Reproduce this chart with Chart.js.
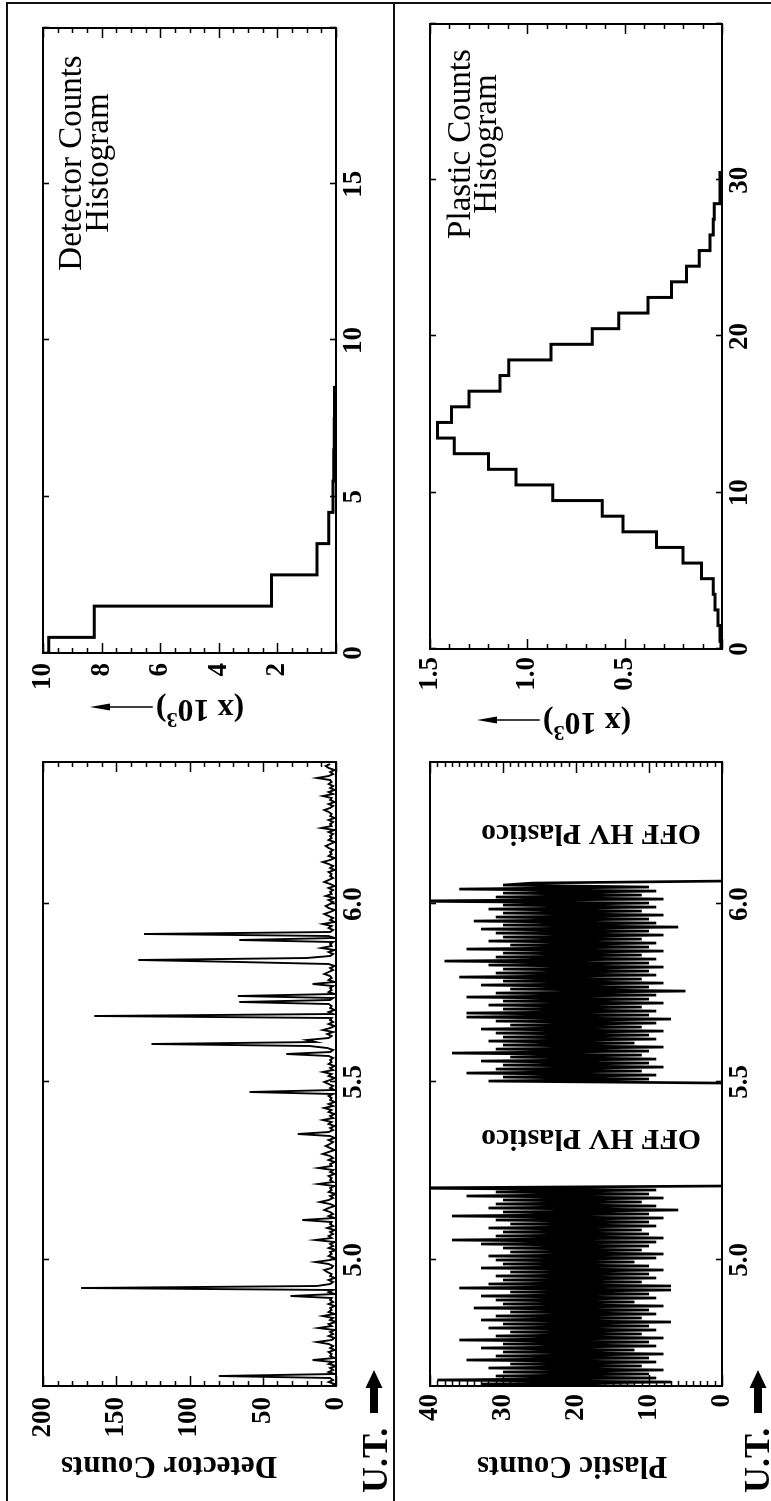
<!DOCTYPE html>
<html>
<head>
<meta charset="utf-8">
<title>Detector and Plastic Counts</title>
<script src="https://cdn.jsdelivr.net/npm/chart.js@4.4.1/dist/chart.umd.min.js"></script>
<style>
  html, body { margin: 0; padding: 0; background: #fff; overflow: hidden; width: 771px; height: 1501px; }
  /* the figure is drawn landscape and turned a quarter turn to the left */
  #page { position: absolute; left: 0; top: 0; width: 1501px; height: 771px;
          transform-origin: 0 0; transform: translate(0, 1501px) rotate(-90deg); }
  #page canvas { position: absolute; left: 0; top: 0; }
  .rule { position: absolute; background: #111; }
</style>
</head>
<body>
<div id="page">
  <div class="rule" style="left:0;top:6px;width:1499px;height:2px"></div>
  <div class="rule" style="left:0;top:393px;width:1499px;height:2px"></div>
  <div class="rule" style="left:1497px;top:6px;width:2px;height:765px"></div>
  <canvas id="detTime" width="1501" height="771"></canvas>
  <canvas id="detHist" width="1501" height="771"></canvas>
  <canvas id="plaTime" width="1501" height="771"></canvas>
  <canvas id="plaHist" width="1501" height="771"></canvas>
</div>
<script>
// ---- data ----
// time series: one sample every sampleDt hours (U.T.)
const sampleDt = 0.005625;
const detStart = 4.645;
const detCounts = [
  3,1,5,2,4,80,1,5,2,4,0,5,2,16,1,4,3,5,1,4,
  2,5,13,3,1,5,2,4,1,12,3,5,0,4,2,9,1,5,3,4,
  1,5,2,4,3,31,1,5,2,174,13,4,2,5,1,4,3,6,8,3,
  2,5,14,4,1,5,3,4,0,5,2,4,1,14,3,5,2,4,1,6,
  2,4,3,23,1,5,2,4,8,5,1,4,11,5,2,4,0,5,3,4,
  1,12,2,4,3,5,1,4,2,12,3,4,1,5,2,4,9,5,1,4,
  7,4,2,5,1,4,26,5,2,4,1,5,3,9,2,4,1,5,3,8,
  2,5,1,4,3,5,2,59,1,4,2,5,8,4,1,5,3,9,2,4,
  1,5,3,4,2,5,34,4,2,6,18,126,14,20,5,3,6,2,9,4,
  1,5,2,4,3,165,2,5,1,4,3,5,66,4,2,67,1,5,3,4,
  2,16,1,5,3,4,8,5,2,4,1,5,66,135,20,4,2,5,1,10,
  3,4,2,66,1,5,131,4,2,5,3,9,1,4,2,5,8,4,1,5,
  7,4,2,5,1,7,3,4,2,5,1,4,8,5,2,4,3,5,1,4,
  2,5,9,4,1,5,3,4,2,5,7,4,1,5,3,4,2,5,1,10,
  3,4,2,5,1,4,3,5,8,4,2,5,1,4,3,9,2,5,1,4,
  2,5,3,4,13,5,2,4,1,5,7,4
];
const plaStart1 = 4.645;
const plaCounts1 = [
  12,33,7,39,9,31,10,30,8,32, 11,29,9,35,10,31,8,30,12,33,
  9,30,10,36,8,31,11,29,9,32, 10,30,7,33,11,31,9,29,10,34,
  8,30,12,31,9,33,10,29,7,36, 7,32,11,30,9,31,10,29,8,33,
  10,30,12,31,9,32,8,29,11,30, 10,33,9,37,8,31,10,30,11,32,
  9,29,10,31,8,37,10,30,6,32, 9,31,11,30,8,35,10,31,9,45,
  0
];
const plaStart2 = 5.497;
const plaCounts2 = [
  0,32,10,30,9,35,11,31,8,30, 10,33,9,29,11,37,10,31,8,30,
  12,32,9,30,10,31,8,33,11,29, 9,31,7,35,10,35,9,30,11,32,
  8,30,10,35,9,31,5,29,10,33, 8,30,11,36,9,31,10,30,8,32,
  10,38,9,31,11,30,8,35,10,29, 9,32,11,30,8,31,10,33,6,30,
  9,34,10,31,8,30,11,32,9,30, 10,44,8,31,11,30,9,36,10,30,
  26,0
];

// histograms: counts per sample (bin centres) and frequency in units of 10^3
const binWidth = 1;
const detHistCounts = [0,1,2,3,4,5,6,7,8];
const detHistFreq = [9.8,8.25,2.2,0.65,0.25,0.1,0.08,0.06,0.05];
const plaHistCounts = [0,1,2,3,4,5,6,7,8,9,10,11,12,13,14,15,16,17,18,19,20,21,22,23,24,25,26,27,28,29,30];
const plaHistFreq = [0.005,0.01,0.02,0.036,0.045,0.105,0.2,0.337,0.509,0.615,0.87,1.058,1.2,1.376,1.462,
                     1.389,1.3,1.14,1.096,0.878,0.667,0.53,0.38,0.26,0.182,0.117,0.062,0.045,0.04,0.01,0.01];

// tick labels
const timeTicks = [5.0, 5.5, 6.0];
const timeTickLabels = ['5.0', '5.5', '6.0'];
const detCountTicks = [0, 50, 100, 150, 200];
const plaCountTicks = [0, 10, 20, 30, 40];
const detHistXTicks = [0, 5, 10, 15];
const detHistYTicks = [2, 4, 6, 8, 10];
const plaHistXTicks = [0, 10, 20, 30];
const plaHistYTicks = [0.5, 1.0, 1.5];
const plaHistYLabels = ['0.5', '1.0', '1.5'];

// ---- layout ----
const W = 1501, H = 771;
const serif = '"Liberation Serif", "Times New Roman", serif';
const tickFont = { family: serif, size: 27, weight: 'bold' };
const plotBox = {
  detTime: { left: 115, top: 43, right: 739, bottom: 336 },
  detHist: { left: 848, top: 43, right: 1473, bottom: 336 },
  plaTime: { left: 115, top: 430, right: 739, bottom: 722 },
  plaHist: { left: 852, top: 430, right: 1477, bottom: 722 }
};
// [major step, major length, minor step, minor length] for the inward ticks
const tickMarks = {
  detTime: { x: [0.5, 6, 0, 0], y: [50, 10, 10, 5] },
  detHist: { x: [5, 6, 0, 0],   y: [2, 10, 0.5, 5] },
  plaTime: { x: [0.5, 6, 0, 0], y: [10, 11, 1, 5] },
  plaHist: { x: [10, 6, 0, 0],  y: [0.5, 10, 0.1, 5] }
};

function axis(horizontal, min, max, values, labels, pad, size) {
  return {
    type: 'linear', min: min, max: max,
    grid: { display: false, drawTicks: false },
    border: { display: false },
    ticks: { autoSkip: false, maxRotation: 0, minRotation: 0, padding: pad, font: tickFont, color: '#000',
             callback: (v, i) => labels[i] },
    afterBuildTicks: s => { s.ticks = values.map(v => ({ value: v })); },
    afterFit: s => { if (horizontal) s.height = size; else s.width = size; }
  };
}

function text(ctx, str, x, y, font, align) {
  ctx.save();
  ctx.font = font; ctx.fillStyle = '#000'; ctx.textAlign = align; ctx.textBaseline = 'alphabetic';
  ctx.fillText(str, x, y);
  ctx.restore();
}
function upText(ctx, str, x, y, font) {
  ctx.save();
  ctx.translate(x, y); ctx.rotate(-Math.PI / 2);
  ctx.font = font; ctx.fillStyle = '#000'; ctx.textAlign = 'center'; ctx.textBaseline = 'alphabetic';
  ctx.fillText(str, 0, 0);
  ctx.restore();
}
function fatArrow(ctx, x0, x1, y) {
  ctx.save();
  ctx.fillStyle = '#000';
  ctx.fillRect(x0, y - 4, x1 - 17 - x0, 8);
  ctx.beginPath(); ctx.moveTo(x1, y); ctx.lineTo(x1 - 18, y - 8.5); ctx.lineTo(x1 - 18, y + 8.5); ctx.closePath(); ctx.fill();
  ctx.restore();
}
// "(x 10^3)" written upwards followed by a thin arrow
function powerLabel(ctx, baseX, cy, arrowX, tipY) {
  const big = 'bold 32px ' + serif, small = 'bold 22px ' + serif;
  ctx.save();
  ctx.translate(baseX, cy); ctx.rotate(-Math.PI / 2);
  ctx.fillStyle = '#000'; ctx.strokeStyle = '#000'; ctx.textAlign = 'left'; ctx.textBaseline = 'alphabetic';
  ctx.font = big; const w1 = ctx.measureText('(x 10').width, w3 = ctx.measureText(')').width;
  ctx.font = small; const w2 = ctx.measureText('3').width;
  let x = -(w1 + w2 + w3) / 2;
  ctx.font = big; ctx.fillText('(x 10', x, 0); x += w1;
  ctx.font = small; ctx.fillText('3', x, -13); x += w2;
  ctx.font = big; ctx.fillText(')', x, 0); x += w3;
  const ay = arrowX - baseX, tip = cy - tipY;
  ctx.lineWidth = 1.5;
  ctx.beginPath(); ctx.moveTo(x + 3, ay); ctx.lineTo(tip - 12, ay); ctx.stroke();
  ctx.beginPath(); ctx.moveTo(tip, ay); ctx.lineTo(tip - 20, ay - 3.5); ctx.lineTo(tip - 20, ay + 3.5); ctx.closePath(); ctx.fill();
  ctx.restore();
}

const notes = {
  detTime: ctx => {
    upText(ctx, 'Detector Counts', 44, 169, 'bold 31px ' + serif);
    text(ctx, 'U.T.', 8, 387, 'bold 36px ' + serif, 'left');
    fatArrow(ctx, 88, 131, 374);
  },
  plaTime: ctx => {
    upText(ctx, 'Plastic Counts', 44, 572, 'bold 31px ' + serif);
    text(ctx, 'U.T.', 8, 769, 'bold 36px ' + serif, 'left');
    fatArrow(ctx, 88, 131, 758);
    upText(ctx, 'OFF HV Plastico', 371, 591, 'bold 30px ' + serif);
    upText(ctx, 'OFF HV Plastico', 676, 591, 'bold 30px ' + serif);
  },
  detHist: ctx => {
    powerLabel(ctx, 801, 200, 794, 90);
    text(ctx, 'Detector Counts', 1338, 81, '33px ' + serif, 'center');
    text(ctx, 'Histogram', 1338, 108, '33px ' + serif, 'center');
  },
  plaHist: ctx => {
    powerLabel(ctx, 788, 587, 781, 477);
    text(ctx, 'Plastic Counts', 1357, 470, '33px ' + serif, 'center');
    text(ctx, 'Histogram', 1357, 496, '33px ' + serif, 'center');
  }
};

// frame around each plot with inward major/minor ticks on all four sides
const boxPlugin = {
  id: 'boxPlugin',
  afterDraw(chart) {
    const id = chart.canvas.id, spec = tickMarks[id];
    const { ctx, chartArea: a } = chart;
    const xs = chart.scales.x, ys = chart.scales.y;
    ctx.save();
    ctx.strokeStyle = '#000';
    ctx.lineWidth = 1.6;
    ctx.beginPath();
    const marks = (scale, step, len, horiz) => {
      if (!step) return;
      for (let k = Math.ceil(scale.min / step - 1e-6); k * step <= scale.max + 1e-9; k++) {
        const p = Math.round(scale.getPixelForValue(k * step)) + 0.5;
        if (horiz) { ctx.moveTo(p, a.bottom); ctx.lineTo(p, a.bottom - len); ctx.moveTo(p, a.top); ctx.lineTo(p, a.top + len); }
        else { ctx.moveTo(a.left, p); ctx.lineTo(a.left + len, p); ctx.moveTo(a.right, p); ctx.lineTo(a.right - len, p); }
      }
    };
    marks(xs, spec.x[2], spec.x[3], true);
    marks(xs, spec.x[0], spec.x[1], true);
    marks(ys, spec.y[2], spec.y[3], false);
    marks(ys, spec.y[0], spec.y[1], false);
    ctx.stroke();
    ctx.lineWidth = 2;
    ctx.strokeRect(a.left, a.top, a.right - a.left, a.bottom - a.top);
    ctx.restore();
    notes[id](ctx);
  }
};

const series = (t0, vals) => vals.map((v, i) => ({ x: t0 + i * sampleDt, y: v }));
const steps = (centres, vals) => {
  const pts = centres.map((c, i) => ({ x: c - binWidth / 2, y: vals[i] }));
  pts.push({ x: centres[centres.length - 1] + binWidth / 2, y: 0 });
  return pts;
};

function makeChart(id, datasets, xAxis, yAxis) {
  const b = plotBox[id];
  return new Chart(document.getElementById(id), {
    type: 'line',
    data: { datasets: datasets },
    options: {
      responsive: false, animation: false, devicePixelRatio: 1, events: [],
      layout: { padding: { left: 0, top: b.top, right: W - b.right, bottom: 0 } },
      plugins: { legend: { display: false }, tooltip: { enabled: false } },
      elements: { point: { radius: 0 }, line: { tension: 0, borderColor: '#000', fill: false } },
      scales: { x: xAxis, y: yAxis }
    },
    plugins: [boxPlugin]
  });
}

makeChart('detTime',
  [{ data: series(detStart, detCounts), borderWidth: 1.9, borderColor: '#000', borderJoinStyle: 'miter' }],
  axis(true, 4.645, 6.40, timeTicks, timeTickLabels, 2, H - plotBox.detTime.bottom),
  axis(false, 0, 200, detCountTicks, detCountTicks.map(String), 11, plotBox.detTime.left));

makeChart('plaTime',
  [{ data: series(plaStart1, plaCounts1), borderWidth: 2.7, borderColor: '#000', borderJoinStyle: 'miter' },
   { data: series(plaStart2, plaCounts2), borderWidth: 2.7, borderColor: '#000', borderJoinStyle: 'miter' }],
  axis(true, 4.645, 6.40, timeTicks, timeTickLabels, 2, H - plotBox.plaTime.bottom),
  axis(false, 0, 40, plaCountTicks, plaCountTicks.map(String), 8, plotBox.plaTime.left));

makeChart('detHist',
  [{ data: steps(detHistCounts, detHistFreq), stepped: 'before', borderWidth: 3, borderColor: '#000', borderJoinStyle: 'miter' }],
  axis(true, 0, 20, detHistXTicks, detHistXTicks.map(String), 2, H - plotBox.detHist.bottom),
  axis(false, 0, 10, detHistYTicks, detHistYTicks.map(String), 10, plotBox.detHist.left));

makeChart('plaHist',
  [{ data: steps(plaHistCounts, plaHistFreq), stepped: 'before', borderWidth: 3, borderColor: '#000', borderJoinStyle: 'miter' }],
  axis(true, 0, 40, plaHistXTicks, plaHistXTicks.map(String), 2, H - plotBox.plaHist.bottom),
  axis(false, 0, 1.5, plaHistYTicks, plaHistYLabels, 8, plotBox.plaHist.left));
</script>
</body>
</html>
